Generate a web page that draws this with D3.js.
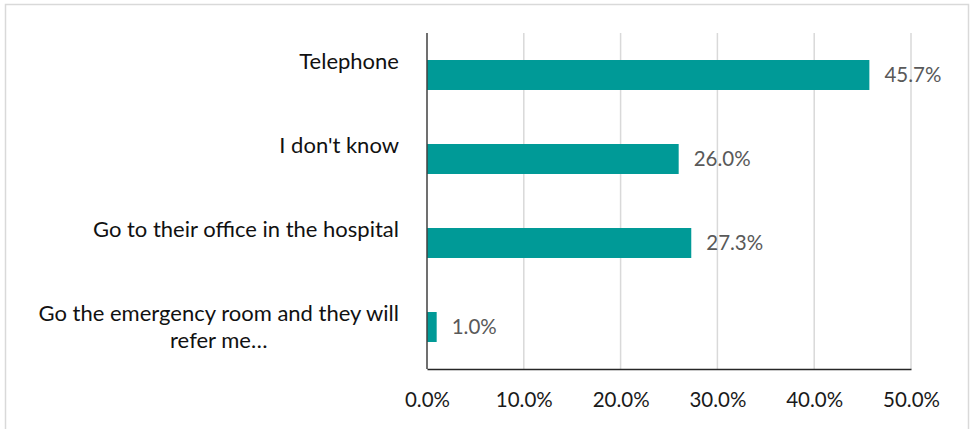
<!DOCTYPE html>
<html>
<head>
<meta charset="utf-8">
<script src="https://cdn.jsdelivr.net/npm/d3@7"></script>
<style>
  html, body { margin: 0; padding: 0; background: #fff; }
  svg { display: block; font-family: Lato, "Open Sans", sans-serif; }
</style>
</head>
<body>
<svg id="chart" width="977" height="429"></svg>
<script>
// Survey answers and their shares (percent)
const categories = [
  "Telephone",
  "I don't know",
  "Go to their office in the hospital",
  "Go the emergency room and they will refer me…"
];
const values = [45.7, 26.0, 27.3, 1.0];
const tickValues = [0, 10, 20, 30, 40, 50];

const svg = d3.select("#chart");
const W = 977, H = 429;
const margin = { left: 427, right: W - 911, top: 33, bottom: H - 369 };
const numFont = 20.5;
const catFont = 22;

// chart frame
svg.append("rect")
  .attr("x", 5.5).attr("y", 4.5)
  .attr("width", 963).attr("height", 440)
  .attr("fill", "none").attr("stroke", "#d9d9d9").attr("stroke-width", 1.5);

const x = d3.scaleLinear().domain([0, 50]).range([margin.left, W - margin.right]);
const y = d3.scaleBand().domain(categories)
  .range([margin.top, H - margin.bottom])
  .paddingInner(0.643).paddingOuter(0.3215);

// vertical gridlines
svg.append("g")
  .selectAll("line")
  .data(tickValues.slice(1))
  .join("line")
  .attr("x1", d => x(d)).attr("x2", d => x(d))
  .attr("y1", margin.top).attr("y2", H - margin.bottom)
  .attr("stroke", "#d9d9d9").attr("stroke-width", 1.5);

// bars
svg.append("g")
  .selectAll("rect")
  .data(values)
  .join("rect")
  .attr("x", x(0))
  .attr("y", (d, i) => y(categories[i]))
  .attr("width", d => x(d) - x(0))
  .attr("height", y.bandwidth())
  .attr("fill", "#009a97");

// value labels
svg.append("g")
  .selectAll("text")
  .data(values)
  .join("text")
  .attr("x", d => x(d) + 15)
  .attr("y", (d, i) => y(categories[i]) + y.bandwidth() / 2)
  .attr("dy", "0.35em")
  .attr("font-size", numFont)
  .attr("fill", "#595959")
  .text(d => d.toFixed(1) + "%");

// x axis
const xAxis = d3.axisBottom(x)
  .tickValues(tickValues)
  .tickFormat(d => d.toFixed(1) + "%")
  .tickSize(0)
  .tickPadding(23);
const gx = svg.append("g")
  .attr("transform", `translate(0,${H - margin.bottom})`)
  .call(xAxis);
gx.select(".domain").attr("stroke", "#262626").attr("stroke-width", 1.5);
gx.selectAll("text").attr("font-size", numFont).attr("fill", "#1a1a1a")
  .attr("font-family", "Lato, 'Open Sans', sans-serif");

// y axis line
svg.append("line")
  .attr("x1", x(0)).attr("x2", x(0))
  .attr("y1", margin.top).attr("y2", H - margin.bottom)
  .attr("stroke", "#404040").attr("stroke-width", 1.5);

// category labels (wrapped at a fixed width, right-aligned)
const labelX = 399;
const lineH = 27;
function wrap(text, maxChars) {
  const words = text.split(" ");
  const lines = [];
  let cur = "";
  words.forEach(w => {
    const next = cur ? cur + " " + w : w;
    if (next.length > maxChars && cur) { lines.push(cur); cur = w; }
    else cur = next;
  });
  if (cur) lines.push(cur);
  return lines;
}
const catG = svg.append("g");
categories.forEach(c => {
  const lines = wrap(c, 36);
  const cy = y(c) + y.bandwidth() / 2;
  // single lines sit on the upper line slot, as in a two-line block
  const startY = lines.length === 1 ? cy - lineH / 2 : cy - (lines.length - 1) * lineH / 2;
  const t = catG.append("text")
    .attr("font-size", catFont)
    .attr("fill", "#111");
  lines.forEach((ln, i) => {
    t.append("tspan")
      .attr("x", labelX)
      .attr("y", startY + i * lineH)
      .attr("dy", "0.35em")
      .attr("text-anchor", lines.length === 1 || i === 0 ? "end" : "middle")
      .text(ln);
  });
  if (lines.length > 1) {
    // center subsequent lines under the first
    const firstW = t.select("tspan").node().getComputedTextLength();
    t.selectAll("tspan").filter((d, i) => i > 0).attr("x", labelX - firstW / 2);
  }
});
</script>
</body>
</html>
